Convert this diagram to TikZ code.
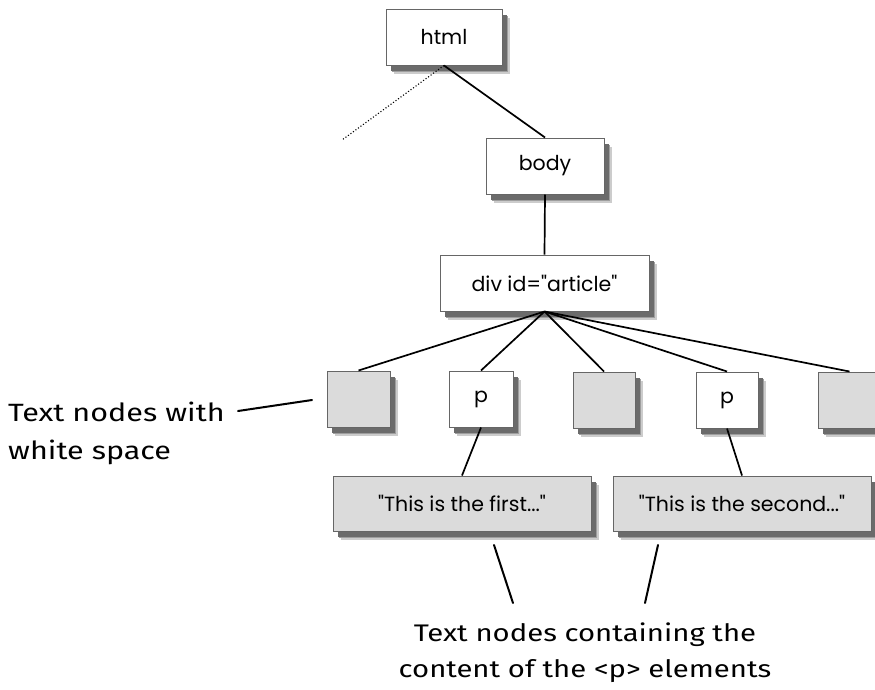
\documentclass[tikz,border=0pt]{standalone}
\usepackage{fontspec}
\setmainfont{Poppins}
\newfontfamily\hand{Fira Sans}[FakeStretch=1.22]
\usetikzlibrary{shadows}
\begin{document}
\begin{tikzpicture}[x=1pt,y=-1pt,
  box/.style={draw=black!60, line width=1pt, fill=white, inner sep=0pt,
    minimum height=56pt, font=\fontsize{20.5}{22}\selectfont,
    general shadow={fill=black!20, shadow xshift=7.5pt, shadow yshift=-8.5pt},
    general shadow={fill=black!38, shadow xshift=6pt, shadow yshift=-7pt},
    general shadow={fill=black!58, shadow xshift=4.5pt, shadow yshift=-5.5pt}},
  greybox/.style={box, fill=black!14},
  link/.style={line width=1.7pt},
  pointer/.style={line width=2pt, line cap=round},
  note/.style={font=\hand\fontsize{25}{38}\selectfont, inner sep=0pt}
]
\useasboundingbox (0,0) rectangle (875,689);

\node[box, minimum width=116pt] (html) at (444,37) {html};
\node[box, minimum width=118pt] (body) at (545,166) {body};
\node[box, minimum width=209pt] (div) at (544.5,283) {div id=\textquotedbl article\textquotedbl};

\node[greybox, minimum width=63pt] (w1) at (358.5,399) {};
\node[box, minimum width=64pt] (p1) at (481,399) {p};
\node[greybox, minimum width=62pt] (w2) at (604,400) {};
\node[box, minimum width=62pt] (p2) at (727,400) {p};
\node[greybox, minimum width=63pt] (w3) at (849.5,400) {};

\node[greybox, minimum width=258pt, minimum height=55pt] (t1) at (462,503.5) {\textquotedbl This is the first...\textquotedbl};
\node[greybox, minimum width=258pt, minimum height=55pt] (t2) at (742,503.5) {\textquotedbl This is the second...\textquotedbl};

\coordinate (dot) at (342,140);
\draw[link] (html.south) -- (body.north);
\draw[line width=1.1pt, dotted] (html.south) -- (dot);
\draw[link] (body.south) -- (div.north);
\foreach \n in {w1,p1,w2,p2,w3} \draw[link] (div.south) -- (\n.north);
\draw[link] (p1.south) -- (t1.north);
\draw[link] (p2.south) -- (t2.north);

% annotations
\node[note, anchor=north west, align=left] (n1) at (8,402) {Text nodes with\\white space};
\coordinate (c1) at (238,411);
\coordinate (c2) at (312,400);
\draw[pointer] (c1) -- (c2);

\node[note, font=\hand\fontsize{24}{36}\selectfont, anchor=north, align=center] (n2) at (585,623) {Text nodes containing the\\content of the <p> elements};
\coordinate (a1) at (494,545);
\coordinate (a2) at (513,603);
\coordinate (b1) at (658,545);
\coordinate (b2) at (645,603);
\draw[pointer] (a1) -- (a2);
\draw[pointer] (b1) -- (b2);
\end{tikzpicture}
\end{document}
